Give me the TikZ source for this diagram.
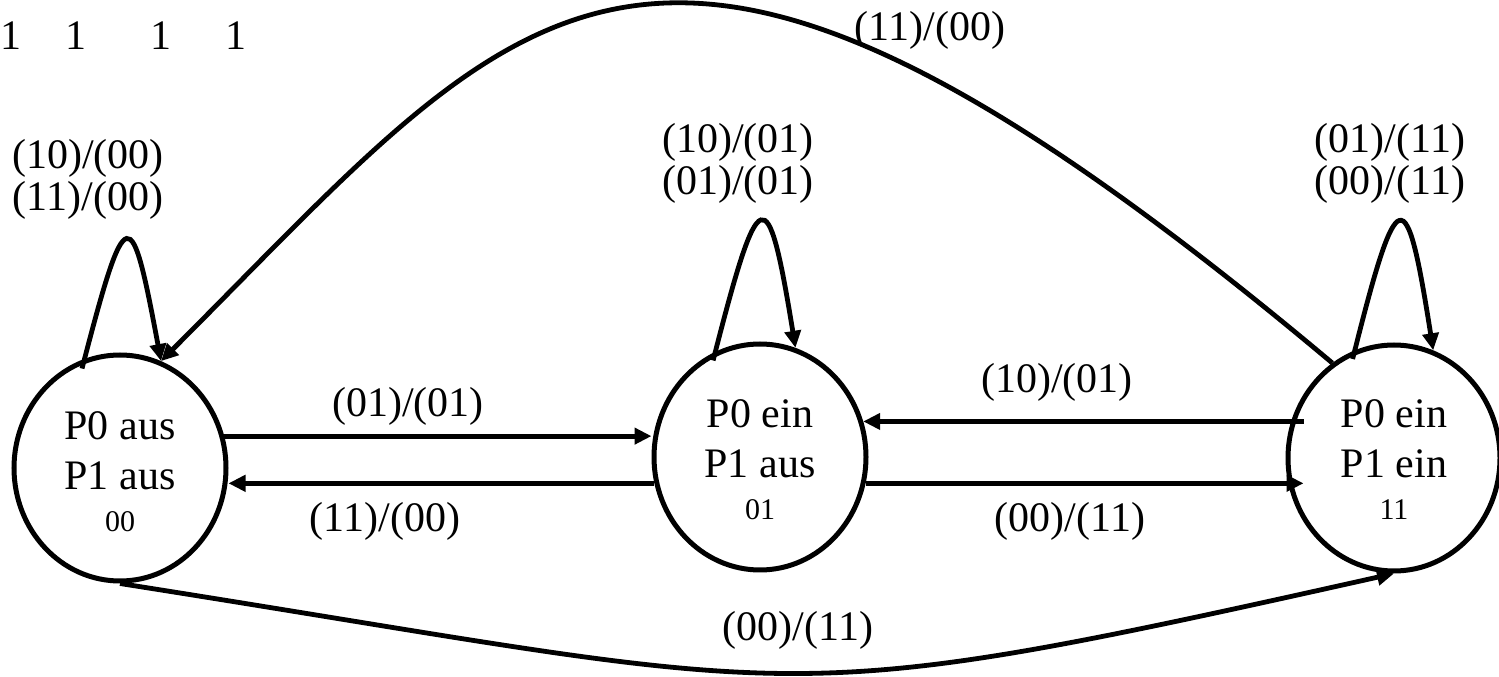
\documentclass[tikz,border=0pt]{standalone}
\usepackage{fontspec}
\setmainfont{Liberation Serif}
\usetikzlibrary{arrows.meta,shapes.geometric}
\begin{document}
\begin{tikzpicture}[x=1pt,y=1pt,
  state/.style={ellipse, draw, line width=5pt, minimum width=212pt, minimum height=226pt, inner sep=0pt},
  edge/.style={line width=4.8pt},
  arr/.style={edge, -{Triangle[length=17pt,width=16pt]}},
  lbl/.style={font=\fontsize{42}{50}\selectfont, inner sep=0pt, anchor=base},
  small/.style={font=\fontsize{30}{36}\selectfont, inner sep=0pt, anchor=base},
]
\useasboundingbox (0,0) rectangle (1499,677);
% states
\node[state] (L) at (120,209) {};
\node[state] (M) at (760,220) {};
\node[state] (R) at (1394,219) {};
% state texts
\node[lbl] (La) at ([yshift=28pt]L.center) {P0 aus};
\node[lbl] (Lb) at ([yshift=-22pt]L.center) {P1 aus};
\node[small] (Lc) at ([yshift=-64pt]L.center) {00};
\node[lbl] (Ma) at ([yshift=29pt]M.center) {P0 ein};
\node[lbl] (Mb) at ([yshift=-21pt]M.center) {P1 aus};
\node[small] (Mc) at ([yshift=-63pt]M.center) {01};
\node[lbl] (Ra) at ([yshift=30pt]R.center) {P0 ein};
\node[lbl] (Rb) at ([yshift=-20pt]R.center) {P1 ein};
\node[small] (Rc) at ([yshift=-62pt]R.center) {11};
% top-left ones
\node[lbl] (one1) at (11,627) {1};
\node[lbl] (one2) at (76,627) {1};
\node[lbl] (one3) at (161,627) {1};
\node[lbl] (one4) at (236,627) {1};
% self loops
\draw[arr, shorten <=-10pt] (L.108) .. controls +(42,162) and +(-30,160) .. (L.69);
\draw[arr, shorten <=-9pt] (M.113) .. controls +(44,172) and +(-28,172) .. (M.72);
\draw[arr, shorten <=-9pt] (R.110) .. controls +(43,172) and +(-27,172) .. (R.70);
% horizontal transitions
\draw[arr] (L.17) -- (L.17 -| M.west);
\draw[arr] (M.194) -- (M.194 -| L.east);
\draw[arr, shorten <=-18pt] (M.19 -| R.west) -- (M.19);
\draw[arr, shorten >=-18pt] (M.-14) -- (M.-14 -| R.west);
% long arcs
\draw[arr] (R.123) .. controls +(-684,574) and +(371,371) .. (L.69);
\draw[arr] (L.270) .. controls +(700,-110) and +(-635,-142) .. (R.270);
% labels
\node[lbl] (l1a) at (88,508) {(10)/(00)};
\node[lbl] (l1b) at (88,466) {(11)/(00)};
\node[lbl] (l2a) at (738,524) {(10)/(01)};
\node[lbl] (l2b) at (738,482) {(01)/(01)};
\node[lbl] (l3a) at (1390,524) {(01)/(11)};
\node[lbl] (l3b) at (1390,482) {(00)/(11)};
\node[lbl] (tRL) at (930,636) {(11)/(00)};
\node[lbl] (tLM) at (408,260) {(01)/(01)};
\node[lbl] (tML) at (385,145) {(11)/(00)};
\node[lbl] (tRM) at (1057,284) {(10)/(01)};
\node[lbl] (tMR) at (1070,145) {(00)/(11)};
\node[lbl] (tLR) at (798,36) {(00)/(11)};
\end{tikzpicture}
\end{document}
